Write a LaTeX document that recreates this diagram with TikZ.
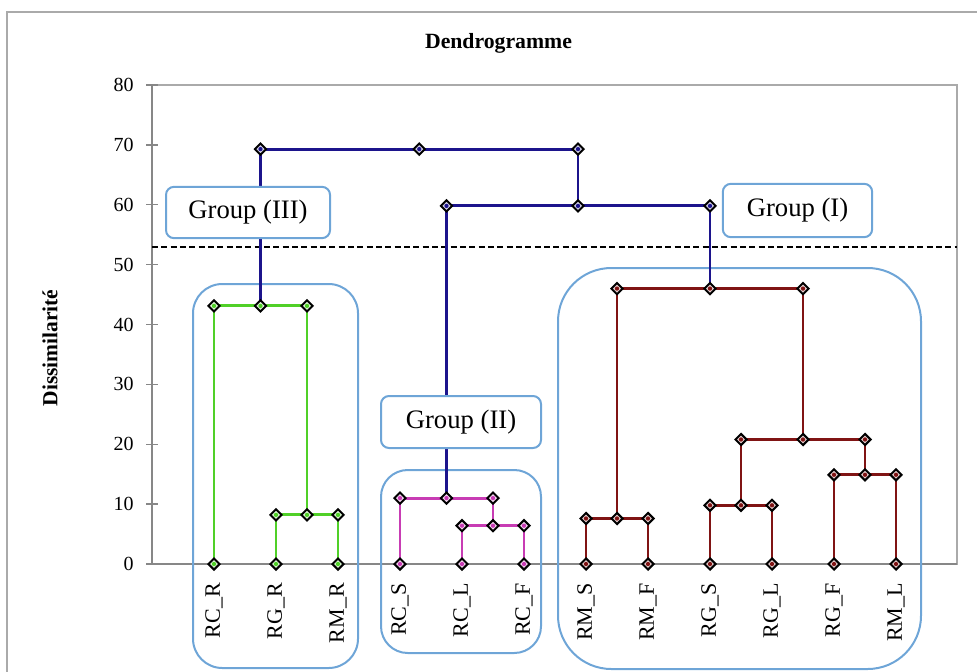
\documentclass[tikz,border=0pt]{standalone}
\usepackage{fontspec}
\setmainfont{Liberation Serif}
\usetikzlibrary{shapes.geometric}
\definecolor{navy}{RGB}{28,20,140}
\definecolor{lgreen}{RGB}{80,208,40}
\definecolor{mag}{RGB}{200,60,180}
\definecolor{dred}{RGB}{128,20,20}
\definecolor{boxblue}{RGB}{110,165,215}
\definecolor{axgray}{RGB}{135,135,135}
\definecolor{framegray}{RGB}{170,170,170}
\begin{document}
\begin{tikzpicture}[x=0.75pt,y=-0.75pt,
  mk/.style={diamond, draw=black, line width=1.5pt, inner sep=0pt,
    minimum width=9pt, minimum height=9pt, fill=#1!20!white,
    path picture={\fill[#1] (path picture bounding box.center) circle (1.6pt);}},
  mk/.default=white,
  dline/.style={line width=2.2pt},
  gbox/.style={draw=boxblue, line width=1.5pt, rounded corners=6pt, fill=white,
    font=\fontsize{20}{22}\selectfont, inner sep=0pt},
  cbox/.style={draw=boxblue, line width=1.5pt},
  leaf/.style={rotate=90, anchor=east, inner sep=0pt, font=\fontsize{16.5}{18}\selectfont},
  ylab/.style={anchor=east, inner sep=0pt, font=\fontsize{15}{17}\selectfont}]
\useasboundingbox (0,0) rectangle (977,671);
\path[clip] (0,0) rectangle (977,671);
% outer frame
\draw[framegray, line width=1.3pt] (7,690) -- (7,12) -- (990,12);
% title and axis title
\node[font=\bfseries\fontsize{16.3}{18}\selectfont] (title) at (498.5,43) {Dendrogramme};
\node[rotate=90, font=\bfseries\fontsize{16.1}{18}\selectfont] (ytitle) at (50,348) {Dissimilarité};
% plot frame
\draw[framegray, line width=1.1pt] (152,85) rectangle (957,564);
\draw[axgray, line width=1.3pt] (152,85) -- (152,564) -- (957,564);
\foreach \v [evaluate=\v as \yy using 564-\v*5.9875] in {0,10,...,80}{
  \draw[axgray, line width=1pt] (146,\yy) -- (158,\yy);
  \node[ylab] (yl\v) at (134,\yy) {\v};
}
% threshold
\draw[black, line width=1.4pt, dash pattern=on 4.5pt off 2.5pt] (152,247) -- (957,247);
% cluster boxes
\draw[cbox, rounded corners=22pt] (193,284) rectangle (358,668);
\draw[cbox, rounded corners=20pt] (381,470) rectangle (541,653);
\draw[cbox, rounded corners=40pt] (558,268) rectangle (921,669);
% coordinates
\coordinate (L1) at (214,564);  \coordinate (L2) at (276,564);  \coordinate (L3) at (338,564);
\coordinate (L4) at (400,564);  \coordinate (L5) at (462,564);  \coordinate (L6) at (524,564);
\coordinate (L7) at (586,564);  \coordinate (L8) at (648,564);  \coordinate (L9) at (710,564);
\coordinate (L10) at (772,564); \coordinate (L11) at (834,564); \coordinate (L12) at (896,564);
\coordinate (g1) at (276,514.9); \coordinate (g2) at (338,514.9); \coordinate (gm) at (307,514.9);
\coordinate (g3) at (214,305.9); \coordinate (g4) at (307,305.9); \coordinate (gt) at (260.5,305.9);
\coordinate (p1) at (462,525.7); \coordinate (p2) at (524,525.7); \coordinate (pm) at (493,525.7);
\coordinate (p3) at (400,498.1); \coordinate (p4) at (493,498.1); \coordinate (pt) at (446.5,498.1);
\coordinate (r1) at (586,518.5); \coordinate (r2) at (648,518.5); \coordinate (rm1) at (617,518.5);
\coordinate (r3) at (710,505.3); \coordinate (r4) at (772,505.3); \coordinate (rm2) at (741,505.3);
\coordinate (r5) at (834,474.8); \coordinate (r6) at (896,474.8); \coordinate (rm3) at (865,474.8);
\coordinate (r7) at (741,439.5); \coordinate (r8) at (865,439.5); \coordinate (rm4) at (803,439.5);
\coordinate (r9) at (617,288.6); \coordinate (r10) at (803,288.6); \coordinate (rt) at (710,288.6);
\coordinate (b1) at (260.5,149.1); \coordinate (b2) at (578,149.1); \coordinate (btop) at (419.25,149.1);
\coordinate (b3) at (446.5,205.9); \coordinate (b4) at (710,205.9); \coordinate (bm) at (578,205.9);
% dendrogram lines
\draw[dline, lgreen] (L2) -- (g1) -- (g2) -- (L3);
\draw[dline, lgreen] (gm) -- (g4);
\draw[dline, lgreen] (L1) -- (g3) -- (g4);
\draw[dline, mag] (L5) -- (p1) -- (p2) -- (L6);
\draw[dline, mag] (pm) -- (p4);
\draw[dline, mag] (L4) -- (p3) -- (p4);
\draw[dline, dred] (L7) -- (r1) -- (r2) -- (L8);
\draw[dline, dred] (L9) -- (r3) -- (r4) -- (L10);
\draw[dline, dred] (L11) -- (r5) -- (r6) -- (L12);
\draw[dline, dred] (rm2) -- (r7) -- (r8) -- (rm3);
\draw[dline, dred] (rm1) -- (r9) -- (r10) -- (rm4);
\draw[dline, navy] (gt) -- (b1) -- (b2) -- (bm);
\draw[dline, navy] (pt) -- (b3) -- (b4) -- (rt);
% group labels
\node[gbox, minimum width=123pt, minimum height=38.5pt] (G3) at (248,212.5) {Group (III)};
\node[gbox, minimum width=112pt, minimum height=40pt] (G1) at (797.5,210.5) {Group (I)};
\node[gbox, minimum width=120pt, minimum height=39pt] (G2) at (461,422) {Group (II)};
% markers
\foreach \c in {L1,L2,L3,g1,g2,gm,g3,g4,gt}{\node[mk=lgreen] (m\c) at (\c) {};}
\foreach \c in {L4,L5,L6,p1,p2,pm,p3,p4,pt}{\node[mk=mag] (m\c) at (\c) {};}
\foreach \c in {L7,L8,L9,L10,L11,L12,r1,r2,rm1,r3,r4,rm2,r5,r6,rm3,r7,r8,rm4,r9,r10,rt}{\node[mk=dred] (m\c) at (\c) {};}
\foreach \c in {b1,b2,btop,b3,b4,bm}{\node[mk=navy] (m\c) at (\c) {};}
% leaf labels
\node[leaf] (t1) at (214,583) {RC\_R};
\node[leaf] (t2) at (276,583) {RG\_R};
\node[leaf] (t3) at (338,583) {RM\_R};
\node[leaf] (t4) at (400,583) {RC\_S};
\node[leaf] (t5) at (462,583) {RC\_L};
\node[leaf] (t6) at (524,583) {RC\_F};
\node[leaf] (t7) at (586,583) {RM\_S};
\node[leaf] (t8) at (648,583) {RM\_F};
\node[leaf] (t9) at (710,583) {RG\_S};
\node[leaf] (t10) at (772,583) {RG\_L};
\node[leaf] (t11) at (834,583) {RG\_F};
\node[leaf] (t12) at (896,583) {RM\_L};
\end{tikzpicture}
\end{document}
